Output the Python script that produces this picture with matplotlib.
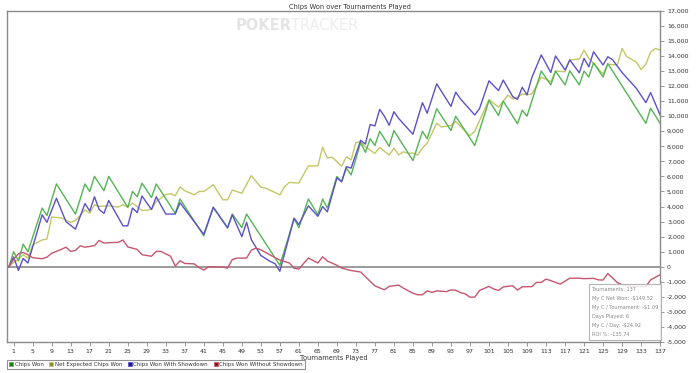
import matplotlib.pyplot as plt
from matplotlib.lines import Line2D

# vertex data: tournament number, chips
won_t = [0, 1, 2, 3, 4, 7, 8, 10, 14, 16, 17, 18, 20, 21, 25, 26, 27, 28, 30, 31,
         35, 36, 41, 43, 46, 47, 49, 50, 57, 60, 61, 63, 65, 66, 67, 69, 70, 71, 72,
         74, 75, 76, 77, 78, 80, 81, 85, 87, 88, 90, 93, 94, 98, 101, 103, 104, 107,
         108, 109, 112, 114, 115, 117, 118, 120, 121, 122, 123, 125, 126, 134, 135, 137]
won_v = [0, 1000, 400, 1500, 1000, 3900, 3400, 5500, 3500, 5500, 5000, 6000, 5050, 6000,
         3950, 5000, 4650, 5550, 4600, 5500, 3550, 4500, 2050, 3950, 2600, 3500, 2600,
         3500, 100, 3200, 2600, 4500, 3450, 4500, 3900, 6000, 5650, 6550, 6100, 8250,
         7600, 8500, 8050, 9000, 8000, 9050, 7050, 9000, 8500, 10500, 9050, 10000, 8050,
         11050, 10050, 11000, 9500, 10400, 10000, 13000, 12080, 13000, 12080, 13020,
         12080, 13000, 12600, 13550, 12600, 13500, 9530, 10530, 9530]

exp_t = [0, 1, 2, 3, 4, 5, 7, 8, 9, 11, 13, 14, 15, 16, 17, 18, 19, 21, 23, 24, 25, 26,
         28, 29, 30, 31, 33, 34, 35, 36, 37, 39, 40, 41, 43, 45, 46, 47, 49, 51, 53, 54,
         56, 57, 58, 59, 61, 63, 65, 66, 67, 68, 70, 71, 72, 73, 74, 75, 77, 78, 80, 81,
         82, 83, 84, 85, 86, 87, 88, 90, 91, 93, 94, 97, 98, 101, 103, 105, 106, 107,
         108, 109, 110, 112, 114, 115, 117, 118, 120, 121, 122, 125, 126, 128, 129, 130,
         132, 133, 134, 135, 136, 137]
exp_v = [0, 290, 470, 800, 575, 1450, 1780, 1840, 3300, 3250, 2950, 3080, 3390, 3780,
         3560, 4110, 4010, 4050, 3960, 4120, 3960, 4230, 3740, 3750, 3830, 4330, 4800,
         4850, 4720, 5300, 5050, 4780, 5000, 5000, 5450, 4450, 4450, 5100, 4880, 6050,
         5290, 5220, 4930, 4780, 5330, 5600, 5560, 6700, 6700, 7950, 7220, 7280, 6680,
         7300, 7100, 8250, 8300, 7970, 7530, 7930, 7420, 7870, 7430, 7640, 7530, 7560,
         7420, 7880, 8210, 9540, 9280, 9380, 9640, 8700, 9000, 11100, 10600, 11400,
         11150, 11260, 11480, 11420, 11480, 12600, 12290, 13000, 12950, 13740, 13800,
         14380, 13850, 12800, 13450, 13400, 14500, 13950, 13600, 13100, 13450, 14250,
         14500, 14400]

sd_t = [0, 1, 2, 3, 4, 7, 8, 10, 12, 14, 16, 17, 18, 19, 20, 21, 24, 25, 26, 27, 28,
        30, 31, 33, 35, 36, 41, 43, 46, 47, 49, 50, 51, 53, 55, 56, 57, 60, 61, 63, 65,
        66, 67, 69, 70, 71, 72, 74, 75, 76, 77, 78, 79, 80, 81, 82, 85, 87, 88, 90, 93,
        94, 95, 98, 99, 101, 103, 104, 106, 107, 108, 109, 110, 112, 114, 115, 117, 118,
        120, 121, 122, 123, 125, 126, 127, 129, 132, 134, 135, 137]
sd_v = [0, 650, -250, 550, 250, 3450, 2950, 4550, 3000, 2500, 4200, 3700, 4650, 3800,
        3550, 4400, 2720, 2720, 3900, 3600, 4700, 3800, 4650, 3500, 3500, 4250, 2150,
        3950, 2580, 3450, 2000, 2950, 1800, 750, 350, 200, -300, 3230, 2800, 4050, 3350,
        4000, 3650, 5900, 5650, 6650, 6550, 8400, 8150, 9450, 9350, 10450, 10000, 9400,
        10300, 9850, 8800, 10900, 10200, 12150, 10650, 11600, 11150, 10080, 10500, 12350,
        11700, 12400, 11300, 11120, 11920, 11420, 12550, 14070, 12900, 14000, 13070,
        13740, 12880, 13840, 13280, 14280, 13400, 13950, 13750, 12900, 11850, 10900,
        11570, 10080]

nsd_t = [0, 1, 2, 3, 4, 5, 7, 8, 9, 11, 12, 13, 14, 15, 16, 18, 19, 20, 21, 23, 24, 25,
         27, 28, 30, 31, 32, 34, 35, 36, 37, 39, 40, 41, 42, 45, 46, 47, 48, 50, 51, 52,
         53, 54, 56, 57, 59, 60, 61, 63, 65, 66, 67, 69, 70, 72, 74, 77, 79, 80, 82, 83,
         85, 86, 87, 88, 89, 90, 92, 93, 94, 95, 96, 97, 98, 99, 101, 102, 103, 104, 106,
         107, 108, 110, 111, 112, 113, 114, 116, 118, 120, 121, 123, 124, 125, 126, 128,
         129, 131, 134, 135, 137]
nsd_v = [0, 500, 860, 950, 800, 600, 530, 640, 900, 1150, 1300, 1020, 1080, 1390, 1300,
         1400, 1750, 1570, 1600, 1620, 1780, 1320, 1150, 800, 700, 1020, 1020, 700, 50,
         400, 220, 190, -50, -220, 0, -20, -90, 480, 575, 575, 1100, 1240, 1130, 950, 600,
         450, 250, -100, -150, 580, 250, 660, 380, 100, -90, -250, -350, -1270, -1530,
         -1300, -1220, -1420, -1760, -1860, -1860, -1600, -1700, -1600, -1650, -1540,
         -1560, -1720, -1800, -2020, -2020, -1580, -1300, -1480, -1570, -1340, -1260,
         -1550, -1330, -1320, -1040, -1040, -820, -920, -1150, -760, -760, -790, -770,
         -870, -880, -450, -1050, -1200, -1300, -1310, -870, -530]

x_ticks = list(range(1, 138, 4))
y_ticks = list(range(-5000, 17001, 1000))
series_names = ["Chips Won", "Net Expected Chips Won", "Chips Won With Showdown",
                "Chips Won Without Showdown"]
stats_lines = ["Tournaments: 137", "My C Net Won: -$149.52", "My C / Tournament: -$1.09",
               "Days Played: 6", "My C / Day: -$24.92", "ROI %: -135.74"]

line_cols = ["#55b455", "#c3c766", "#5b52c8", "#c5566f"]
box_cols = ["#1f7a1f", "#8c8c2a", "#1c1c8c", "#8c1c1c"]

fig = plt.figure(figsize=(7, 3.73), dpi=100)
ax = fig.add_axes([0.01, 0.083, 0.933, 0.888])

ax.axhline(0, color="#8a8a8a", lw=1.2, zorder=1)
ax.plot(exp_t, exp_v, color=line_cols[1], lw=1.0, zorder=2)
ax.plot(won_t, won_v, color=line_cols[0], lw=1.0, zorder=3)
ax.plot(sd_t, sd_v, color=line_cols[2], lw=1.0, zorder=4)
ax.plot(nsd_t, nsd_v, color=line_cols[3], lw=1.0, zorder=5)

ax.set_xlim(-0.4, 137)
ax.set_ylim(-5000, 17000)
ax.set_xticks(x_ticks)
ax.set_xticklabels([str(t) for t in x_ticks], fontsize=4.5, color="#333333")
ax.yaxis.tick_right()
ax.set_yticks(y_ticks)
ax.set_yticklabels([f"{v:,}" for v in y_ticks], fontsize=4.5, color="#333333")
ax.tick_params(axis="both", length=3, width=0.6, color="#888888", pad=2)
for s in ax.spines.values():
    s.set_color("#8a8a8a")
    s.set_linewidth(1.0)
ax.set_xlabel("Tournaments Played", fontsize=4.8, color="#333333", labelpad=0.5)

fig.text(0.5, 0.99, "Chips Won over Tournaments Played", ha="center", va="top",
         fontsize=4.8, color="#333333")
ax.text(0.435, 0.955, "POKER", transform=ax.transAxes, ha="right", va="center",
        fontsize=10.5, fontweight="bold", color="#e4e4e4", zorder=0)
ax.text(0.435, 0.955, "TRACKER", transform=ax.transAxes, ha="left", va="center",
        fontsize=10.5, color="#eeeeee", zorder=0)

# stats box
ax.text(0.895, 0.166, "\n".join(stats_lines), transform=ax.transAxes, ha="left", va="top",
        fontsize=3.6, color="#888888", linespacing=2.0, zorder=6,
        bbox=dict(boxstyle="square,pad=0.6", fc="white", ec="#aaaaaa", lw=0.8, alpha=0.85))

handles = [Line2D([], [], marker="s", ls="none", markersize=3.3, markerfacecolor=box_cols[i],
                  markeredgecolor=line_cols[i], markeredgewidth=0.6) for i in range(4)]
leg = fig.legend(handles, series_names, loc="lower left", bbox_to_anchor=(0.006, 0.002),
                 ncol=4, fontsize=4.0, frameon=True, fancybox=False, handletextpad=0.2,
                 columnspacing=1.0, borderpad=0.4, handlelength=0.8)
leg.get_frame().set_edgecolor("#777777")
leg.get_frame().set_linewidth(0.8)
for txt in leg.get_texts():
    txt.set_color("#333333")

fig.savefig("out.png", dpi=100)
